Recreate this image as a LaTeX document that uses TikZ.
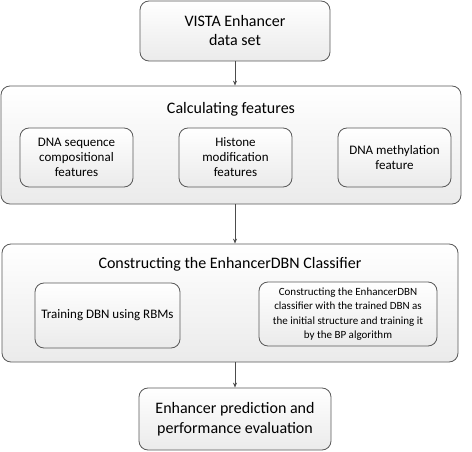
\documentclass[tikz,border=0pt]{standalone}
\usepackage{fontspec}
\setmainfont{Carlito}
\usetikzlibrary{arrows.meta}

\tikzset{
  stage/.style={draw=gray!70!black, line width=0.8pt, rounded corners=9pt,
    top color=white, bottom color=gray!16, align=center, inner sep=2pt},
  flow/.style={-{Stealth[length=5pt,width=4pt]}, draw=gray!60!black, line width=0.8pt}
}

\begin{document}
\begin{tikzpicture}[x=1pt,y=-1pt]
\useasboundingbox (0,0) rectangle (472,452);
% outer stages
\node[stage, minimum width=190pt, minimum height=60pt, font=\fontsize{16}{19}\selectfont] (vista) at (235,31) {VISTA Enhancer\\data set};
\node[stage, minimum width=460pt, minimum height=118pt] (calc) at (231,145) {};
\node[font=\fontsize{16}{19}\selectfont] (calctitle) at (231,109) {Calculating features};
\node[stage, minimum width=456pt, minimum height=118pt] (cons) at (230,303) {};
\node[font=\fontsize{16}{19}\selectfont] (constitle) at (230,264) {Constructing the EnhancerDBN Classifier};
\node[stage, minimum width=192pt, minimum height=62pt, font=\fontsize{16}{20}\selectfont] (pred) at (235,419) {Enhancer prediction and\\performance evaluation};
% feature boxes
\node[stage, minimum width=113pt, minimum height=59pt, font=\fontsize{13}{15}\selectfont] (seq) at (76.5,157.5) {DNA sequence\\compositional\\features};
\node[stage, minimum width=113pt, minimum height=59pt, font=\fontsize{13}{15}\selectfont] (hist) at (235.5,157.5) {Histone\\modification\\features};
\node[stage, minimum width=113pt, minimum height=59pt, font=\fontsize{13}{15}\selectfont] (meth) at (394.5,157.5) {DNA methylation\\feature};
% classifier boxes
\node[stage, minimum width=145pt, minimum height=65pt, font=\fontsize{13}{15}\selectfont] (rbm) at (107.5,315.5) {Training DBN using RBMs};
\node[stage, minimum width=178pt, minimum height=64pt, font=\fontsize{11}{14.5}\selectfont] (bp) at (348,314) {Constructing the EnhancerDBN\\classifier with the trained DBN as\\the initial structure and training it\\by the BP algorithm};
% arrows
\draw[flow] (vista.south) -- (vista.south |- calc.north);
\draw[flow] (calc.south -| vista.south) -- (vista.south |- cons.north);
\draw[flow] (cons.south -| pred.north) -- (pred.north);
\end{tikzpicture}
\end{document}
